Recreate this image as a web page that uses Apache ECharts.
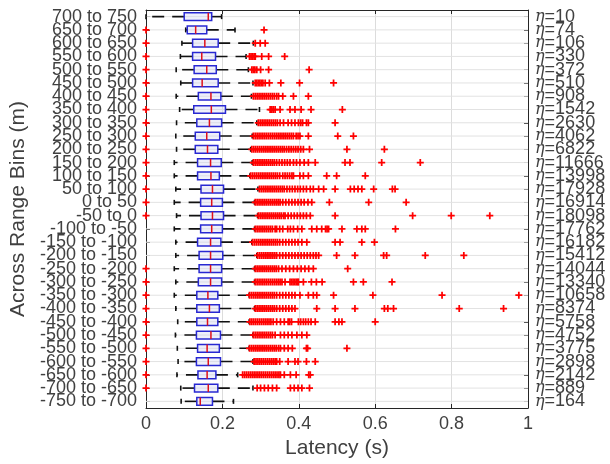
<!DOCTYPE html>
<html>
<head>
<meta charset="utf-8">
<script src="https://cdn.jsdelivr.net/npm/echarts@6/dist/echarts.min.js"></script>
<style>html,body{margin:0;padding:0;background:#fff}#c{width:610px;height:464px}</style>
</head>
<body>
<div id="c"></div>
<script>
// categories listed top to bottom
const categories = ['700 to 750','650 to 700','600 to 650','550 to 600','500 to 550','450 to 500','400 to 450','350 to 400','300 to 350','250 to 300','200 to 250','150 to 200','100 to 150','50 to 100','0 to 50','-50 to 0','-100 to -50','-150 to -100','-200 to -150','-250 to -200','-300 to -250','-350 to -300','-400 to -350','-450 to -400','-500 to -450','-550 to -500','-600 to -550','-650 to -600','-700 to -650','-750 to -700'];
const counts = [10,74,106,330,372,510,908,1542,2630,4062,6822,11666,13998,17928,16914,18098,17762,16182,15412,14044,13340,10658,8374,5758,4752,3775,2898,2142,889,164];
const whiskerLow  = [0.000,0.104,0.094,0.090,0.079,0.091,0.079,0.088,0.080,0.078,0.080,0.074,0.074,0.078,0.074,0.080,0.074,0.078,0.078,0.074,0.078,0.074,0.078,0.083,0.077,0.082,0.084,0.081,0.091,0.092];
const q1          = [0.100,0.108,0.122,0.122,0.126,0.122,0.137,0.125,0.133,0.129,0.129,0.135,0.135,0.144,0.143,0.144,0.143,0.135,0.139,0.139,0.137,0.133,0.133,0.133,0.132,0.135,0.132,0.136,0.127,0.133];
const median      = [0.163,0.130,0.154,0.146,0.159,0.147,0.170,0.171,0.166,0.159,0.161,0.169,0.170,0.174,0.172,0.174,0.172,0.169,0.169,0.169,0.169,0.162,0.166,0.161,0.170,0.160,0.163,0.160,0.163,0.142];
const q3          = [0.172,0.159,0.189,0.182,0.184,0.189,0.196,0.208,0.198,0.193,0.188,0.197,0.192,0.203,0.200,0.203,0.200,0.196,0.201,0.198,0.198,0.188,0.192,0.188,0.195,0.192,0.195,0.183,0.188,0.174];
const whiskerHigh = [0.198,0.233,0.281,0.262,0.268,0.280,0.276,0.297,0.290,0.278,0.274,0.278,0.272,0.293,0.284,0.292,0.284,0.277,0.290,0.284,0.284,0.270,0.284,0.270,0.280,0.270,0.280,0.240,0.280,0.229];
const lowOutliers = [[],[0],[0],[0],[0],[0],[0],[0],[0],[0],[0],[0],[0],[0],[0],[0],[],[],[],[0],[0],[0],[0],[0],[0],[0],[0],[0],[0],[]];
const highOutliers = [
 [],
 [0.309],
 [0.286,0.299,0.312],
 [0.271,0.275,0.279,0.283,0.286,0.303,0.321,0.363],
 [0.277,0.281,0.285,0.290,0.300,0.321,0.427],
 [0.286,0.290,0.294,0.298,0.302,0.306,0.312,0.323,0.353,0.402,0.491],
 [0.281,0.286,0.291,0.296,0.301,0.306,0.311,0.316,0.321,0.326,0.331,0.336,0.342,0.347,0.358,0.386,0.425],
 [0.325,0.329,0.333,0.338,0.351,0.377,0.390,0.406,0.432,0.514],
 [0.294,0.299,0.304,0.309,0.314,0.319,0.324,0.329,0.334,0.339,0.344,0.351,0.360,0.372,0.381,0.390,0.399,0.405,0.410,0.420,0.425,0.495],
 [0.281,0.286,0.291,0.296,0.301,0.306,0.311,0.316,0.321,0.326,0.331,0.336,0.341,0.346,0.351,0.356,0.361,0.366,0.371,0.376,0.381,0.386,0.393,0.398,0.403,0.425,0.502,0.543],
 [0.277,0.282,0.287,0.292,0.297,0.302,0.307,0.312,0.317,0.322,0.327,0.332,0.337,0.342,0.347,0.352,0.357,0.362,0.368,0.374,0.380,0.386,0.392,0.398,0.405,0.412,0.428,0.526,0.624],
 [0.281,0.286,0.291,0.296,0.301,0.306,0.311,0.316,0.321,0.326,0.331,0.336,0.342,0.349,0.356,0.363,0.370,0.377,0.386,0.394,0.403,0.414,0.425,0.443,0.521,0.534,0.617,0.718],
 [0.274,0.279,0.284,0.289,0.294,0.299,0.304,0.309,0.314,0.319,0.324,0.329,0.334,0.339,0.344,0.350,0.358,0.364,0.370,0.376,0.382,0.386,0.403,0.412,0.425,0.473,0.499,0.574],
 [0.297,0.302,0.307,0.312,0.317,0.322,0.327,0.332,0.337,0.342,0.347,0.352,0.357,0.362,0.369,0.376,0.383,0.390,0.397,0.404,0.412,0.420,0.430,0.438,0.452,0.465,0.495,0.535,0.545,0.555,0.565,0.596,0.645,0.652],
 [0.286,0.291,0.296,0.301,0.306,0.311,0.316,0.321,0.326,0.331,0.336,0.341,0.346,0.351,0.358,0.366,0.374,0.382,0.390,0.398,0.406,0.414,0.424,0.434,0.480,0.583,0.681],
 [0.294,0.299,0.304,0.309,0.314,0.319,0.324,0.329,0.334,0.339,0.344,0.349,0.354,0.360,0.364,0.372,0.380,0.388,0.396,0.404,0.412,0.420,0.430,0.495,0.698,0.799,0.900],
 [0.286,0.291,0.296,0.301,0.306,0.311,0.316,0.321,0.326,0.331,0.338,0.342,0.350,0.358,0.371,0.378,0.386,0.397,0.408,0.434,0.447,0.460,0.470,0.474,0.478,0.513,0.552,0.565,0.574,0.653],
 [0.279,0.284,0.289,0.294,0.299,0.304,0.309,0.314,0.319,0.324,0.329,0.334,0.339,0.344,0.350,0.358,0.366,0.374,0.382,0.390,0.398,0.408,0.421,0.495,0.508,0.565,0.598],
 [0.292,0.297,0.302,0.307,0.312,0.317,0.322,0.327,0.332,0.337,0.342,0.350,0.358,0.366,0.374,0.382,0.390,0.398,0.406,0.414,0.422,0.430,0.438,0.445,0.452,0.499,0.547,0.622,0.630,0.731,0.832],
 [0.286,0.291,0.296,0.301,0.306,0.311,0.316,0.321,0.326,0.331,0.336,0.341,0.347,0.356,0.366,0.376,0.386,0.396,0.406,0.416,0.426,0.438,0.528],
 [0.286,0.291,0.296,0.301,0.306,0.311,0.316,0.321,0.326,0.331,0.336,0.341,0.346,0.351,0.356,0.364,0.377,0.381,0.385,0.389,0.393,0.397,0.399,0.412,0.433,0.446,0.461,0.543,0.569,0.644],
 [0.271,0.276,0.281,0.286,0.291,0.296,0.301,0.306,0.311,0.316,0.321,0.326,0.331,0.336,0.342,0.350,0.358,0.366,0.374,0.382,0.390,0.403,0.425,0.438,0.447,0.491,0.594,0.775,0.976],
 [0.286,0.291,0.296,0.301,0.306,0.311,0.316,0.321,0.326,0.331,0.336,0.342,0.350,0.358,0.366,0.374,0.382,0.390,0.447,0.495,0.547,0.624,0.633,0.648,0.820,0.936],
 [0.272,0.277,0.282,0.287,0.292,0.297,0.302,0.307,0.312,0.317,0.322,0.327,0.333,0.342,0.352,0.362,0.372,0.376,0.381,0.399,0.405,0.412,0.418,0.425,0.432,0.443,0.495,0.505,0.513,0.600],
 [0.281,0.286,0.291,0.296,0.301,0.306,0.311,0.316,0.321,0.326,0.331,0.338,0.352,0.362,0.372,0.382,0.395,0.408,0.421],
 [0.271,0.276,0.281,0.286,0.291,0.296,0.301,0.306,0.311,0.316,0.321,0.326,0.331,0.336,0.341,0.347,0.352,0.362,0.372,0.383,0.420,0.423,0.526],
 [0.283,0.288,0.293,0.298,0.303,0.308,0.313,0.318,0.323,0.328,0.333,0.338,0.342,0.350,0.372,0.390,0.398,0.420,0.443],
 [0.253,0.258,0.263,0.268,0.273,0.278,0.283,0.288,0.293,0.298,0.303,0.308,0.313,0.318,0.323,0.328,0.333,0.338,0.343,0.348,0.352,0.362,0.378,0.393,0.426,0.430],
 [0.291,0.300,0.310,0.320,0.331,0.342,0.378,0.388,0.398,0.408,0.428],
 []
];
const xTicks = {min: 0, max: 1, interval: 0.2};

const FONT = "'Liberation Sans', Arial, sans-serif";
const TXT = '#404040';

const boxData = categories.map((c, i) => [i, whiskerLow[i], q1[i], median[i], q3[i], whiskerHigh[i]]);
const outlierData = [];
categories.forEach((c, i) => {
  lowOutliers[i].forEach(v => outlierData.push([v, i]));
  highOutliers[i].forEach(v => outlierData.push([v, i]));
});

function renderBox(params, api) {
  const i = api.value(0);
  const c = (v) => api.coord([v, i]);
  const y = c(0)[1];
  const band = api.size([0, 1])[1];
  const h = band * 0.29;
  const xl = c(xTicks.min)[0], xr = c(xTicks.max)[0];
  const xMin = c(api.value(1))[0], xQ1 = c(api.value(2))[0], xMed = c(api.value(3))[0];
  const xQ3 = c(api.value(4))[0], xMax = c(api.value(5))[0];
  const wStyle = {stroke: '#111', lineWidth: 1.6, lineDash: [12, 8]};
  const capStyle = {stroke: '#111', lineWidth: 1.6};
  return {
    type: 'group',
    children: [
      {type: 'line', shape: {x1: xl, y1: y, x2: xr, y2: y}, style: {stroke: '#e2e2e2', lineWidth: 1}},
      {type: 'line', shape: {x1: xQ1, y1: y, x2: xMin, y2: y}, style: wStyle},
      {type: 'line', shape: {x1: xQ3, y1: y, x2: xMax, y2: y}, style: wStyle},
      {type: 'line', shape: {x1: xMin, y1: y - 2.5, x2: xMin, y2: y + 2.5}, style: capStyle},
      {type: 'line', shape: {x1: xMax, y1: y - 2.5, x2: xMax, y2: y + 2.5}, style: capStyle},
      {type: 'rect', shape: {x: xQ1, y: y - h, width: xQ3 - xQ1, height: 2 * h},
        style: {fill: 'rgba(205,210,240,0.35)', stroke: '#2828d2', lineWidth: 1.5}},
      {type: 'line', shape: {x1: xMed, y1: y - h, x2: xMed, y2: y + h}, style: {stroke: '#e0101a', lineWidth: 1.5}}
    ]
  };
}

const chart = echarts.init(document.getElementById('c'), null, {renderer: 'canvas'});
chart.setOption({
  animation: false,
  backgroundColor: '#fff',
  grid: {left: 146, right: 82, top: 10, bottom: 56},
  xAxis: [{
    type: 'value', min: xTicks.min, max: xTicks.max, interval: xTicks.interval,
    name: 'Latency (s)', nameLocation: 'middle', nameGap: 26,
    nameTextStyle: {fontFamily: FONT, fontSize: 21, color: TXT},
    axisLine: {show: true, lineStyle: {color: '#262626', width: 1}},
    axisTick: {show: true, inside: true, length: 4, lineStyle: {color: '#262626'}},
    axisLabel: {fontFamily: FONT, fontSize: 18, color: TXT, margin: 7},
    splitLine: {show: true, lineStyle: {color: '#dcdcdc', width: 1}}
  }, {
    type: 'value', position: 'top', min: xTicks.min, max: xTicks.max, interval: xTicks.interval,
    axisLine: {show: true, onZero: false, lineStyle: {color: '#262626', width: 1}},
    axisTick: {show: true, inside: true, length: 4, lineStyle: {color: '#262626'}},
    axisLabel: {show: false}, splitLine: {show: false}
  }],
  yAxis: [{
    type: 'category', data: categories, inverse: true, position: 'left',
    name: 'Across Range Bins (m)', nameLocation: 'middle', nameGap: 115, nameRotate: 90,
    nameTextStyle: {fontFamily: FONT, fontSize: 21, color: TXT},
    axisLine: {show: true, lineStyle: {color: '#262626', width: 1}},
    axisTick: {show: true, inside: true, alignWithLabel: true, length: 4, lineStyle: {color: '#262626'}},
    axisLabel: {interval: 0, fontFamily: FONT, fontSize: 18, color: TXT, margin: 9},
    splitLine: {show: false}
  }, {
    type: 'category', data: counts.map(String), inverse: true, position: 'right',
    axisLine: {show: true, onZero: false, lineStyle: {color: '#262626', width: 1}},
    axisTick: {show: true, inside: true, alignWithLabel: true, length: 4, lineStyle: {color: '#262626'}},
    axisLabel: {
      interval: 0, fontFamily: FONT, fontSize: 18, color: TXT, margin: 7,
      formatter: (v) => '{e|η}=' + v,
      rich: {e: {fontFamily: "'DejaVu Serif', serif", fontStyle: 'italic', fontSize: 16, color: TXT}}
    },
    splitLine: {show: false}
  }],
  series: [{
    type: 'custom', xAxisIndex: 0, yAxisIndex: 0,
    renderItem: renderBox, data: boxData,
    encode: {x: [1, 2, 3, 4, 5], y: 0}, clip: false, z: 2
  }, {
    type: 'scatter', xAxisIndex: 0, yAxisIndex: 0,
    data: outlierData,
    symbol: 'path://M3,0 H5 V3 H8 V5 H5 V8 H3 V5 H0 V3 H3 Z',
    symbolSize: 7,
    itemStyle: {color: '#ff0000', opacity: 1},
    clip: false, z: 3
  }]
});
</script>
</body>
</html>
